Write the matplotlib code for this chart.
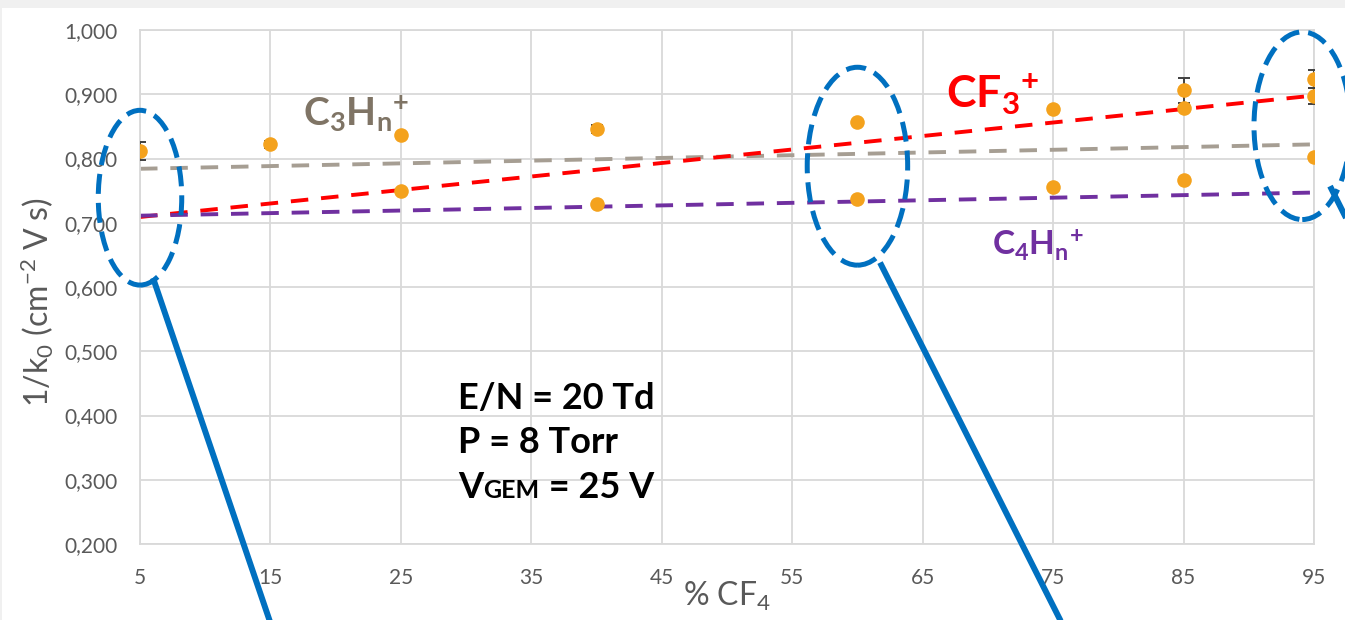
import matplotlib
matplotlib.use("Agg")
import matplotlib.pyplot as plt
from matplotlib.patches import Ellipse, Rectangle

plt.rcParams["font.family"] = ["Lato", "DejaVu Sans"]
plt.rcParams["mathtext.fontset"] = "custom"
plt.rcParams["mathtext.rm"] = "Lato"
plt.rcParams["mathtext.it"] = "Lato:italic"
plt.rcParams["mathtext.bf"] = "Lato:bold"

# measured mobilities (1/k0) versus CF4 fraction
pct_cf4 = [5, 15, 25, 25, 40, 40, 60, 60, 75, 75, 85, 85, 85, 95, 95, 95]
inv_k0 = [0.812, 0.822, 0.837, 0.750, 0.846, 0.729, 0.857, 0.737,
          0.877, 0.755, 0.906, 0.878, 0.766, 0.924, 0.897, 0.802]
inv_k0_err = [0.014, 0.006, 0.0, 0.0, 0.006, 0.0, 0.0, 0.0,
              0.0, 0.0, 0.020, 0.0, 0.0, 0.014, 0.012, 0.0]

# linear trend lines for each ion family (values at 5 % and 95 % CF4)
trend_x = [5, 95]
trend_c3hn = [0.784, 0.822]
trend_cf3 = [0.709, 0.898]
trend_c4hn = [0.711, 0.747]

x_ticks = [5, 15, 25, 35, 45, 55, 65, 75, 85, 95]
y_ticks = [0.2, 0.3, 0.4, 0.5, 0.6, 0.7, 0.8, 0.9, 1.0]
y_tick_labels = ["0,200", "0,300", "0,400", "0,500", "0,600",
                 "0,700", "0,800", "0,900", "1,000"]

GRID = "#d9d9d9"
TICK = "#595959"
ORANGE = "#f4a21d"
BLUE = "#0070c0"

fig = plt.figure(figsize=(13.45, 6.2), dpi=100)
fig.patch.set_facecolor("white")
fig.add_artist(Rectangle((0, 1 - 8 / 620), 1, 8 / 620, transform=fig.transFigure,
                         facecolor="#f0f0f0", edgecolor="none", zorder=0))
fig.add_artist(Rectangle((0, 0), 2 / 1345, 1, transform=fig.transFigure,
                         facecolor="#f0f0f0", edgecolor="none", zorder=0))

ax = fig.add_axes([140 / 1345, 76 / 620, 1174 / 1345, 514 / 620])
ax.set_xlim(5, 95)
ax.set_ylim(0.2, 1.0)
ax.set_xticks(x_ticks)
ax.set_yticks(y_ticks)
ax.set_yticklabels(y_tick_labels)
ax.tick_params(axis="both", length=0, labelsize=15, labelcolor=TICK)
ax.tick_params(axis="y", pad=16)
ax.tick_params(axis="x", pad=17)
ax.grid(True, color=GRID, lw=1.3)
ax.set_axisbelow(True)
for sp in ax.spines.values():
    sp.set_color(GRID)
    sp.set_linewidth(1.3)

ax.set_ylabel(r"1/k$_{\mathrm{0}}$ (cm$^{\mathrm{-2}}$ V s)", fontsize=23,
              color=TICK)
ax.yaxis.set_label_coords(-0.0715, 0.47)
ax.set_xlabel(r"% CF$_{\mathrm{4}}$", fontsize=23, color=TICK)
ax.xaxis.set_label_coords(0.5, -0.07)

dash = (0, (4.5, 3.3))
ax.plot(trend_x, trend_c3hn, color="#a69e93", lw=2.8, linestyle=dash, zorder=2)
ax.plot(trend_x, trend_cf3, color="#ff0000", lw=2.8, linestyle=dash, zorder=2)
ax.plot(trend_x, trend_c4hn, color="#7030a0", lw=2.8, linestyle=dash, zorder=2)

ax.errorbar(pct_cf4, inv_k0, yerr=inv_k0_err, fmt="none", ecolor="#404040",
            elinewidth=1.4, capsize=4, capthick=1.4, zorder=3)
ax.plot(pct_cf4, inv_k0, linestyle="none", marker="o", markersize=10.5,
        color=ORANGE, markeredgewidth=0, zorder=4)

# ion labels
ax.text(17.5, 0.852,
        r"$\mathbf{C}_{\mathbf{3}}\mathbf{H}_{\mathbf{n}}{}^{\mathbf{+}}$",
        fontsize=28, color="#7f7465", va="baseline", ha="left")
ax.text(66.8, 0.879, r"$\mathbf{CF}_{\mathbf{3}}{}^{\mathbf{+}}$",
        fontsize=32, color="#ff0000", va="baseline", ha="left")
ax.text(70.3, 0.650,
        r"$\mathbf{C}_{\mathbf{4}}\mathbf{H}_{\mathbf{n}}{}^{\mathbf{+}}$",
        fontsize=24, color="#7030a0", va="baseline", ha="left")

# run conditions
cond = dict(fontsize=26, fontweight="bold", color="black", va="baseline", ha="left")
ax.text(29.4, 0.4106, "E/N = 20 Td", **cond)
ax.text(29.4, 0.342, "P = 8 Torr", **cond)
v = ax.text(29.4, 0.272, "V", **cond)
gem = ax.annotate("GEM", xy=(1, 0.272), xycoords=(v, "data"), fontsize=18,
                  fontweight="bold", color="black", va="baseline", ha="left")
ax.annotate(" = 25 V", xy=(1, 0.272), xycoords=(gem, "data"), fontsize=26,
            fontweight="bold", color="black", va="baseline", ha="left")

# highlighted groups
ell = dict(fill=False, edgecolor=BLUE, lw=3.6, linestyle=(0, (4, 1.8)),
           clip_on=False, zorder=6)
ax.add_patch(Ellipse((5.0, 0.739), 6.4, 0.272, **ell))
ax.add_patch(Ellipse((60.0, 0.788), 7.7, 0.308, **ell))
ax.add_patch(Ellipse((94.1, 0.851), 7.4, 0.292, **ell))

lead = dict(color=BLUE, lw=4.3, solid_capstyle="butt", clip_on=False, zorder=6)
ax.plot([6.0, 15.43], [0.614, 0.0513], **lead)
ax.plot([61.73, 76.3], [0.638, 0.0513], **lead)
ax.plot([96.23, 98.68], [0.757, 0.658], **lead)

fig.savefig("out.png", dpi=100, facecolor=fig.get_facecolor())
